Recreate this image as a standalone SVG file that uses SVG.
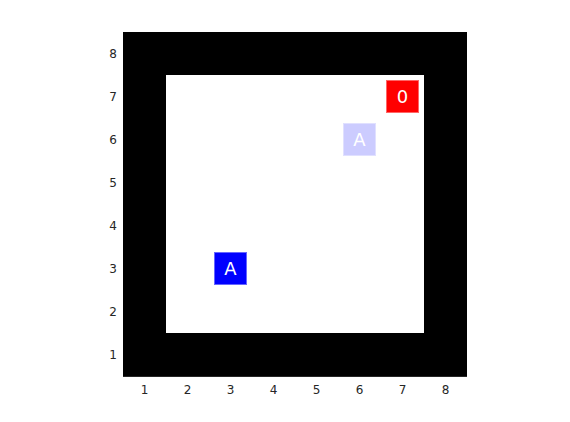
<svg xmlns="http://www.w3.org/2000/svg" width="570" height="422" viewBox="0 0 570 422">
<style>
.tick{font-family:"DejaVu Sans","Liberation Sans",sans-serif;font-size:12px;fill:#262626}
.lbl{font-family:"DejaVu Sans","Liberation Sans",sans-serif;font-size:18px;fill:#ffffff;text-anchor:middle}
</style>
<rect width="570" height="422" fill="#ffffff"/>
<g id="grid">
<rect x="123" y="32" width="344" height="344" fill="#000000"/>
<rect x="166" y="75" width="258" height="258" fill="#ffffff"/>
<line x1="123" y1="376.5" x2="467" y2="376.5" stroke="#262626" stroke-width="1"/>
</g>
<g id="xticks" class="tick" text-anchor="middle">
<text x="144.5" y="394">1</text>
<text x="187.5" y="394">2</text>
<text x="230.5" y="394">3</text>
<text x="273.5" y="394">4</text>
<text x="316.5" y="394">5</text>
<text x="359.5" y="394">6</text>
<text x="402.5" y="394">7</text>
<text x="445.5" y="394">8</text>
</g>
<g id="yticks" class="tick" text-anchor="end">
<text x="117" y="58">8</text>
<text x="117" y="101">7</text>
<text x="117" y="144">6</text>
<text x="117" y="187">5</text>
<text x="117" y="230">4</text>
<text x="117" y="273">3</text>
<text x="117" y="316">2</text>
<text x="117" y="359">1</text>
</g>
<g id="node-red">
<rect x="386.5" y="80.5" width="32" height="32" fill="#ff0000" stroke="#ff6666" stroke-width="1"/>
<text class="lbl" x="402.5" y="103">0</text>
</g>
<g id="node-lightblue">
<rect x="343.5" y="123.5" width="32" height="32" fill="#ccccff" stroke="#e0e0ff" stroke-width="1"/>
<text class="lbl" x="359.5" y="146">A</text>
</g>
<g id="node-blue">
<rect x="214.5" y="252.5" width="32" height="32" fill="#0000ff" stroke="#6666ff" stroke-width="1"/>
<text class="lbl" x="230.5" y="275">A</text>
</g>
<g id="connectors"></g>
</svg>
